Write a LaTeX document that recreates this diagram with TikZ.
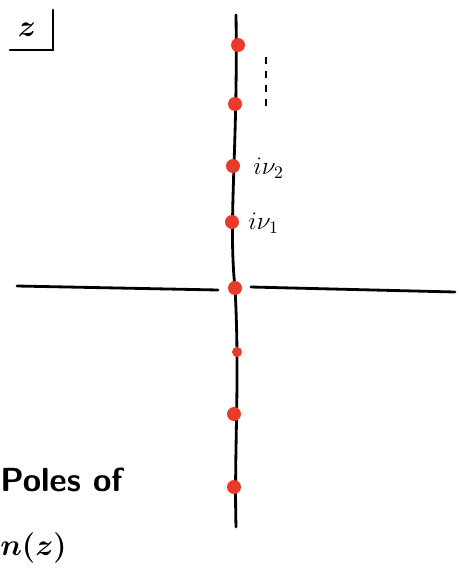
\documentclass[tikz,border=0pt]{standalone}
\usepackage{tikz}
\usetikzlibrary{positioning}
\definecolor{polered}{HTML}{EA3A2B}

\begin{document}
\begin{tikzpicture}[
  x=0.02cm, y=-0.02cm,
  axis/.style={line width=1.6pt, line cap=round},
  pole/.style={circle, fill=polered, inner sep=0pt, minimum size=0.28cm},
  smallpole/.style={pole, minimum size=0.2cm},
  lbl/.style={font=\sffamily\bfseries\boldmath\fontsize{19}{22}\selectfont, inner sep=0pt},
  tag/.style={font=\sffamily\Large, inner sep=0pt, anchor=west},
]
\useasboundingbox (0,0) rectangle (458,572);

% axes
\coordinate (top) at (236,15);
\coordinate (bot) at (236,527);
\coordinate (lft) at (17,286);
\coordinate (lgap) at (218,290);
\coordinate (rgap) at (251,287);
\coordinate (rgt) at (455,292);
\draw[axis] (top) .. controls (238,150) and (228,220) .. (235,288)
  .. controls (240,380) and (234,450) .. (bot);
\draw[axis] (lft) -- (lgap);
\draw[axis] (rgap) -- (rgt);

% poles on the imaginary axis
\node[pole] (p4) at (238,45) {};
\node[pole] (p3) at (235,104) {};
\node[pole] (p2) at (233,166) {};
\node[pole] (p1) at (232,222) {};
\node[pole] (p0) at (235,288) {};
\node[smallpole] (m1) at (237,352) {};
\node[pole] (m2) at (234,414) {};
\node[pole] (m3) at (234,487) {};

\node[tag] (nu2) at (253,168) {$i\nu_2$};
\node[tag] (nu1) at (248,223) {$i\nu_1$};

% dots going up
\coordinate (dtop) at (266,57);
\coordinate (dbot) at (266,113);
\draw[line width=1.2pt, dash pattern=on 4pt off 4pt] (dtop) -- (dbot);

% plane label
\node[lbl] (zl) at (27,30) {$z$};
\coordinate (za) at (53,10);
\coordinate (zb) at (53,50);
\coordinate (zc) at (10,50);
\draw[axis] (za) -- (zb) -- (zc);

\node[lbl, anchor=west] (poles) at (0,480) {Poles of};
\node[lbl, anchor=west] (nz) at (0,548) {$n(z)$};
\end{tikzpicture}
\end{document}
